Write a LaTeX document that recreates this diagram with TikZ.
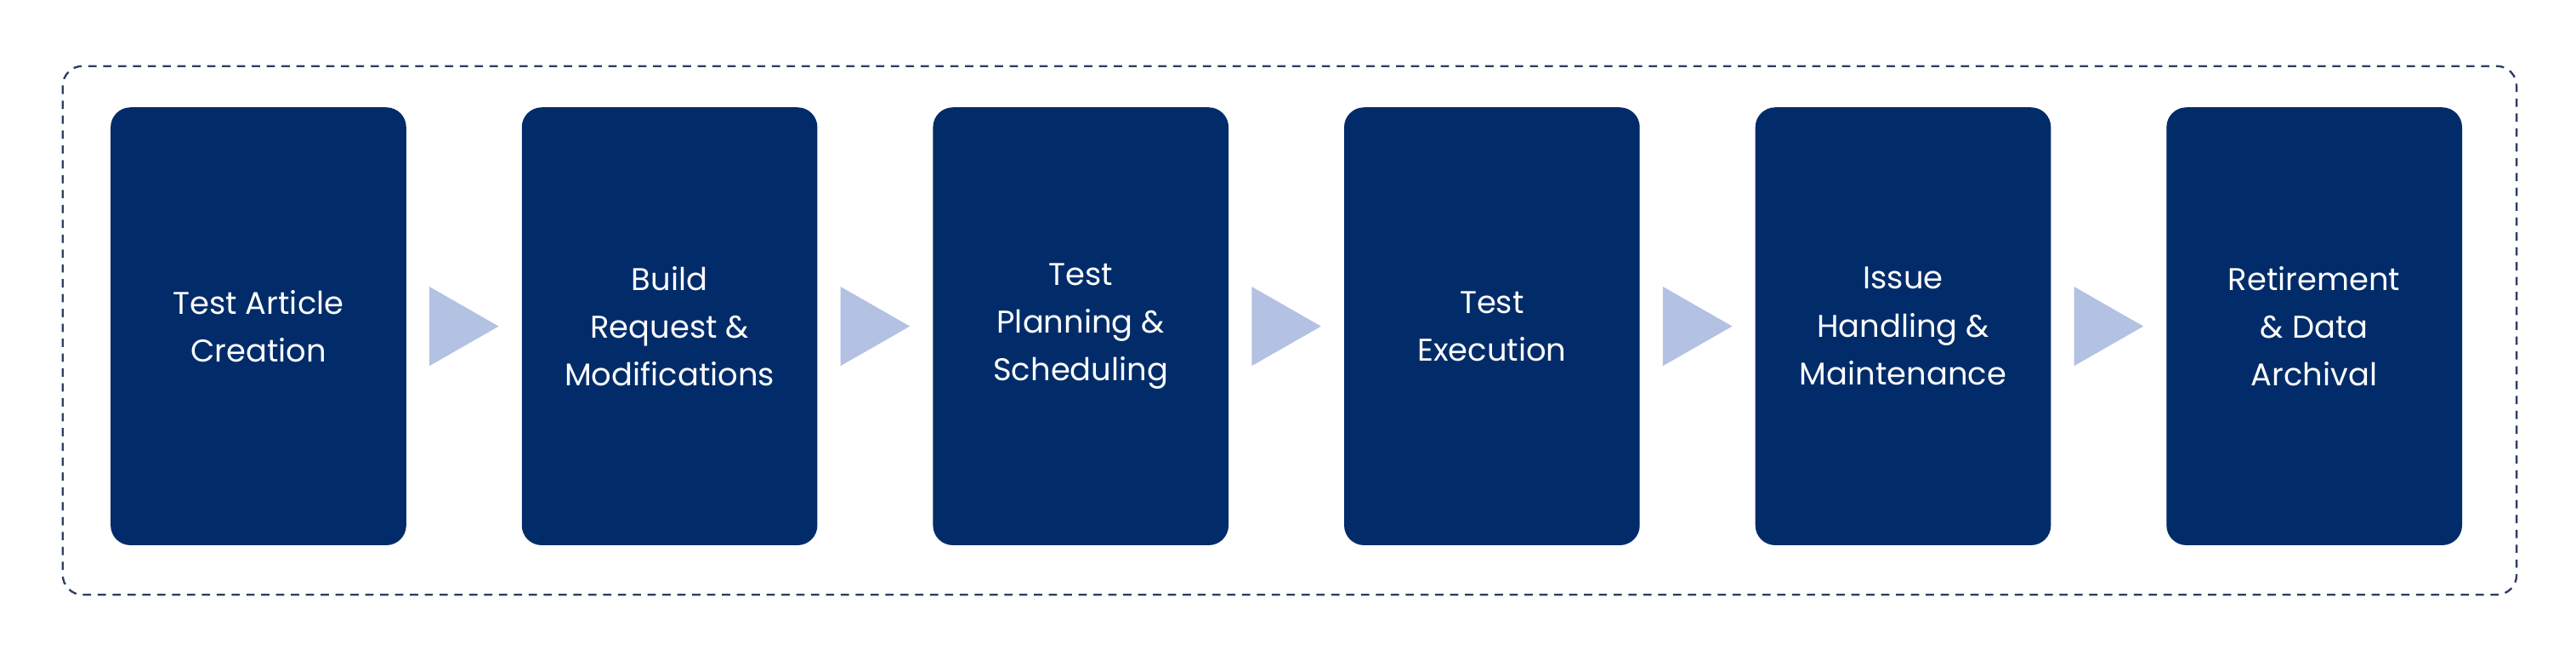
\documentclass[tikz,border=0pt]{standalone}
\usepackage{fontspec}
\setmainfont{Poppins}
\usetikzlibrary{calc}
\definecolor{navy}{HTML}{022C69}
\definecolor{tricol}{HTML}{B3C1E3}
\definecolor{dashcol}{HTML}{2C3E63}
\begin{document}
\begin{tikzpicture}[x=1pt,y=-1pt,
  stage/.style={fill=navy,rounded corners=12pt,minimum width=179pt,minimum height=265pt,text=white,align=center,font=\fontsize{19}{29}\selectfont,inner sep=0pt}]
\useasboundingbox (0,0) rectangle (1560,392.4);
\draw[draw=dashcol,line width=1.2pt,dash pattern=on 5pt off 4pt,rounded corners=12pt] (38,40) rectangle (1524,360);
\foreach \i/\t in {0/{Test Article\\Creation},1/{Build\\Request \&\\Modifications},2/{Test\\Planning \&\\Scheduling},3/{Test\\Execution},4/{Issue\\Handling \&\\Maintenance},5/{Retirement\\\& Data\\Archival}}{
  \node[stage] (s\i) at (156.5+249*\i,197.5) {\t};
}
\foreach \i [evaluate=\i as \j using int(\i+1)] in {0,...,4}{
  \coordinate (a\i) at ($(s\i.east)!0.5!(s\j.west)$);
  \fill[tricol] ([xshift=-21pt,yshift=-24pt]a\i) -- ([xshift=21pt]a\i) -- ([xshift=-21pt,yshift=24pt]a\i) -- cycle;
}
\end{tikzpicture}
\end{document}
